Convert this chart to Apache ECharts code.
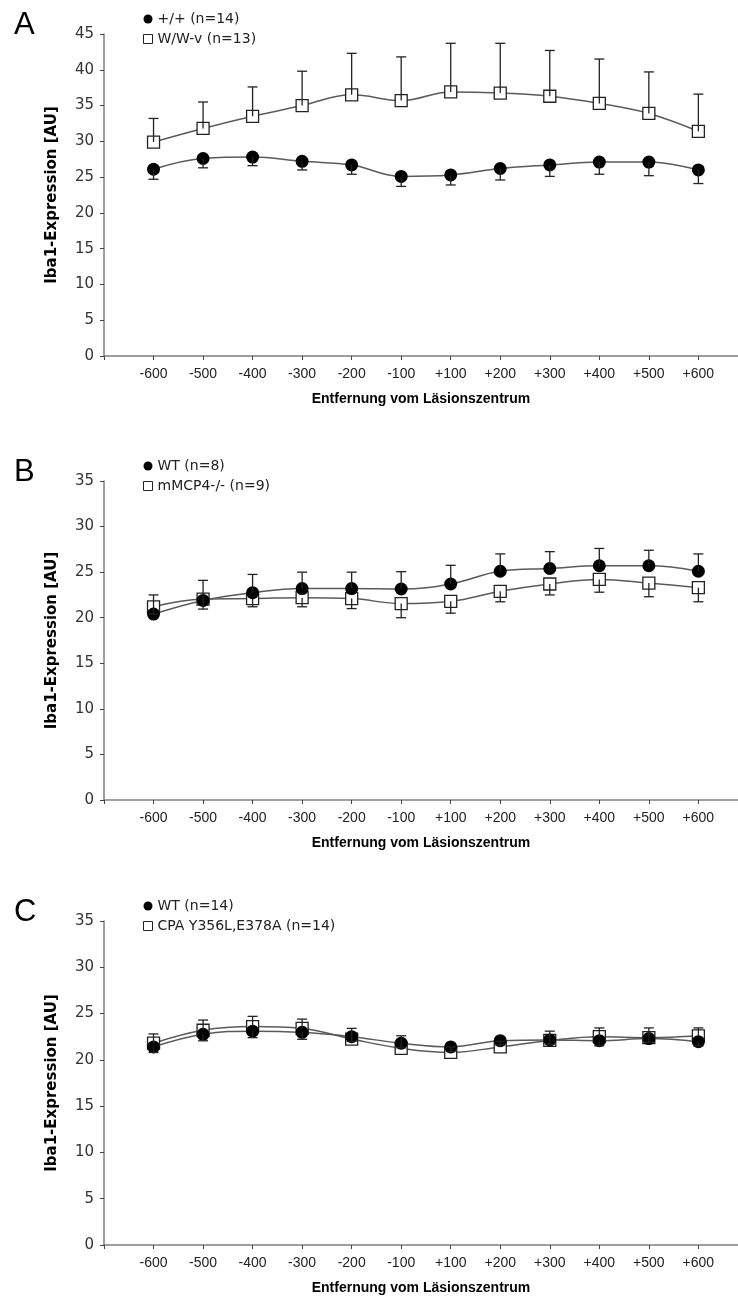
<!DOCTYPE html>
<html>
<head>
<meta charset="utf-8">
<script src="https://cdn.jsdelivr.net/npm/echarts@6/dist/echarts.min.js"></script>
<style>
  html, body { margin: 0; padding: 0; background: #fff; }
  #chart { width: 738px; height: 1300px; }
</style>
</head>
<body>
<div id="chart"></div>
<script>
// Entfernung vom Läsionszentrum (x categories)
const xLabels = ['-600', '-500', '-400', '-300', '-200', '-100', '+100', '+200', '+300', '+400', '+500', '+600']

// Panel A
const aCircleMean = [26.1, 27.6, 27.8, 27.2, 26.7, 25.1, 25.3, 26.2, 26.7, 27.1, 27.1, 26.0]
const aCircleSd = [1.4, 1.3, 1.2, 1.2, 1.3, 1.4, 1.4, 1.6, 1.6, 1.7, 1.9, 1.9]
const aSquareMean = [29.9, 31.8, 33.5, 35.0, 36.5, 35.7, 36.9, 36.75, 36.3, 35.3, 33.9, 31.4]
const aSquareSd = [3.3, 3.7, 4.1, 4.8, 5.8, 6.1, 6.8, 6.95, 6.4, 6.2, 5.8, 5.2]

// Panel B
const bCircleMean = [20.4, 21.9, 22.75, 23.2, 23.2, 23.15, 23.7, 25.1, 25.4, 25.7, 25.7, 25.1]
const bCircleSd = [2.1, 2.2, 2.0, 1.8, 1.8, 1.9, 2.05, 1.9, 1.85, 1.9, 1.7, 1.9]
const bSquareMean = [21.2, 22.05, 22.1, 22.2, 22.1, 21.55, 21.8, 22.9, 23.7, 24.2, 23.8, 23.3]
const bSquareSd = [0.8, 1.1, 0.9, 1.0, 1.1, 1.55, 1.3, 1.15, 1.2, 1.4, 1.5, 1.55]

// Panel C
const cCircleMean = [21.4, 22.76, 23.1, 22.97, 22.5, 21.8, 21.4, 22.07, 22.15, 22.07, 22.3, 21.96]
const cCircleSd = [0.6, 0.7, 0.7, 0.75, 0.5, 0.5, 0.5, 0.45, 0.45, 0.55, 0.4, 0.45]
const cSquareMean = [21.8, 23.2, 23.6, 23.4, 22.25, 21.25, 20.8, 21.4, 22.1, 22.5, 22.4, 22.6]
const cSquareSd = [1.0, 1.1, 1.1, 1.0, 1.15, 1.35, 0.6, 0.6, 1.0, 0.95, 1.05, 0.85]

const legendNames = [
  ['+/+ (n=14)', 'W/W-v (n=13)'],
  ['WT (n=8)', 'mMCP4-/- (n=9)'],
  ['WT (n=14)', 'CPA Y356L,E378A (n=14)']
]

const AXIS_COLOR = '#7f7f7f'
const LINE_COLOR = '#5a5a5a'
const BAR_COLOR = '#222'

function points (mean) {
  return mean.map((v, i) => [i + 1, v])
}

// dir: 1 = Fehlerbalken nach oben, -1 = nach unten
function bars (mean, sd, dir) {
  return mean.map((v, i) => [i + 1, v, sd[i] * dir])
}

function renderBar (params, api) {
  const x = api.value(0)
  const y = api.value(1)
  const e = api.value(2)
  const p0 = api.coord([x, y])
  const p1 = api.coord([x, y + e])
  const style = { stroke: BAR_COLOR, lineWidth: 1.3 }
  return {
    type: 'group',
    children: [
      { type: 'line', shape: { x1: p0[0], y1: p0[1], x2: p1[0], y2: p1[1] }, style: style },
      { type: 'line', shape: { x1: p1[0] - 5, y1: p1[1], x2: p1[0] + 5, y2: p1[1] }, style: style }
    ]
  }
}

const panels = [
  { letter: 'A', top: 34, height: 322, max: 45, cm: aCircleMean, cs: aCircleSd, cd: -1, sm: aSquareMean, ss: aSquareSd, sd: 1 },
  { letter: 'B', top: 481, height: 319, max: 35, cm: bCircleMean, cs: bCircleSd, cd: 1, sm: bSquareMean, ss: bSquareSd, sd: -1 },
  { letter: 'C', top: 921, height: 324, max: 35, cm: cCircleMean, cs: cCircleSd, cd: -1, sm: cSquareMean, ss: cSquareSd, sd: 1 }
]

const option = {
  backgroundColor: '#fff',
  animation: false,
  title: [],
  legend: [],
  grid: [],
  xAxis: [],
  yAxis: [],
  series: []
}

panels.forEach((p, k) => {
  option.title.push({
    text: p.letter,
    left: 9,
    top: p.top - 29,
    textStyle: { fontFamily: 'Liberation Sans', fontSize: 31, fontWeight: 'normal', color: '#000' }
  })
  option.legend.push({
    orient: 'vertical',
    left: 138,
    top: p.top - 27,
    itemWidth: 9,
    itemHeight: 9,
    itemGap: 6,
    selectedMode: false,
    textStyle: { fontFamily: 'DejaVu Sans', fontSize: 14, color: '#222' },
    data: [
      { name: legendNames[k][0], icon: 'circle', itemStyle: { color: '#000', borderWidth: 0 } },
      { name: legendNames[k][1], icon: 'rect', itemStyle: { color: '#fff', borderColor: '#222', borderWidth: 1 } }
    ]
  })
  option.grid.push({ left: 104, top: p.top, width: 634, height: p.height })
  option.xAxis.push({
    type: 'value',
    gridIndex: k,
    min: 0,
    max: 12.8,
    name: 'Entfernung vom Läsionszentrum',
    nameLocation: 'middle',
    nameGap: 36,
    nameTextStyle: { fontFamily: 'Liberation Sans', fontSize: 14, fontWeight: 'bold', color: '#000' },
    axisLine: { lineStyle: { color: AXIS_COLOR, width: 1.5 } },
    axisTick: { length: 4, lineStyle: { color: '#444' }, customValues: [0, 1, 2, 3, 4, 5, 6, 7, 8, 9, 10, 11, 12] },
    axisLabel: {
      customValues: [1, 2, 3, 4, 5, 6, 7, 8, 9, 10, 11, 12],
      formatter: v => xLabels[v - 1] || '',
      margin: 11,
      fontFamily: 'Liberation Sans',
      fontSize: 14,
      color: '#222'
    },
    splitLine: { show: false }
  })
  option.yAxis.push({
    type: 'value',
    gridIndex: k,
    min: 0,
    max: p.max,
    interval: 5,
    name: 'Iba1-Expression [AU]',
    nameLocation: 'middle',
    nameGap: 44,
    nameTextStyle: { fontFamily: 'DejaVu Sans', fontSize: 15, fontWeight: 'bold', color: '#000' },
    axisLine: { show: true, lineStyle: { color: AXIS_COLOR, width: 1.5 } },
    axisTick: { show: true, length: 4, lineStyle: { color: '#444' } },
    axisLabel: { margin: 10, fontFamily: 'DejaVu Sans', fontSize: 15, color: '#333' },
    splitLine: { show: false }
  })
  // Quadrate zuerst, Kreise darüber
  option.series.push({
    name: legendNames[k][1],
    type: 'line',
    xAxisIndex: k,
    yAxisIndex: k,
    smooth: 0.4,
    symbol: 'rect',
    symbolSize: 12,
    lineStyle: { color: LINE_COLOR, width: 1.5 },
    itemStyle: { color: '#fff', borderColor: '#222', borderWidth: 1.3 },
    data: points(p.sm),
    z: 2
  })
  option.series.push({
    name: legendNames[k][0],
    type: 'line',
    xAxisIndex: k,
    yAxisIndex: k,
    smooth: 0.4,
    symbol: 'circle',
    symbolSize: 13,
    lineStyle: { color: LINE_COLOR, width: 1.5 },
    itemStyle: { color: '#000', borderWidth: 0 },
    data: points(p.cm),
    z: 3
  })
  option.series.push({
    type: 'custom',
    xAxisIndex: k,
    yAxisIndex: k,
    renderItem: renderBar,
    encode: { x: 0, y: 1 },
    data: bars(p.sm, p.ss, p.sd),
    z: 4
  })
  option.series.push({
    type: 'custom',
    xAxisIndex: k,
    yAxisIndex: k,
    renderItem: renderBar,
    encode: { x: 0, y: 1 },
    data: bars(p.cm, p.cs, p.cd),
    z: 4
  })
})

const chart = echarts.init(document.getElementById('chart'))
chart.setOption(option)
</script>
</body>
</html>
